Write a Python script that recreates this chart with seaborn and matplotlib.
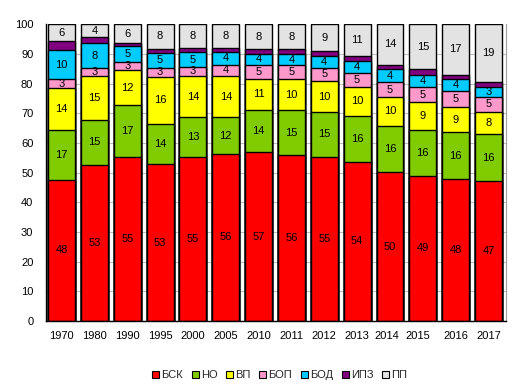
"""
Stacked bar chart: structure of causes (%), 1970-2017
"""
import numpy as np
import pandas as pd
import seaborn as sns
import matplotlib as mpl
from matplotlib import pyplot as plt
from matplotlib.patches import Patch

years = ['1970', '1980', '1990', '1995', '2000', '2005', '2010',
         '2011', '2012', '2013', '2014', '2015', '2016', '2017']

# values, bottom series first
bsk = [47.6, 52.6, 55.4, 52.9, 55.2, 56.3, 56.9, 55.8, 55.2, 53.6, 50.1, 48.9, 47.8, 47.1]
no = [16.6, 15.2, 17.3, 13.6, 13.4, 12.4, 14.1, 15.2, 15.3, 15.6, 15.6, 15.6, 15.8, 15.8]
vp = [14.4, 14.7, 11.8, 15.8, 14.0, 13.8, 10.7, 10.4, 10.3, 9.7, 9.8, 9.2, 8.6, 7.6]
bop = [2.8, 2.7, 2.8, 2.9, 3.1, 3.9, 4.7, 4.7, 4.6, 4.6, 5.0, 5.2, 5.4, 5.1]
bod = [9.9, 8.4, 5.3, 5.2, 4.8, 4.2, 3.7, 3.8, 3.8, 4.0, 4.3, 4.0, 3.8, 3.3]
ipz = [2.9, 2.0, 1.0, 1.4, 1.5, 1.5, 1.5, 1.7, 1.7, 1.8, 1.6, 2.0, 1.6, 1.7]
pp = [5.8, 4.4, 6.4, 8.2, 8.0, 7.9, 8.4, 8.4, 9.1, 10.7, 13.6, 15.1, 17.0, 19.4]

names = ['БСК', 'НО', 'ВП', 'БОП', 'БОД', 'ИПЗ', 'ПП']
colors = ['#FF0000', '#80CC00', '#FFFF00', '#FF99CC', '#00CCFF', '#800080', '#E3E3E3']
labelled = [True, True, True, True, True, False, True]

series = [bsk, no, vp, bop, bod, ipz, pp]
df = pd.DataFrame(dict(zip(names, series)), index=years)
cum = df.cumsum(axis=1)

sns.set_theme(style='white')
plt.rcParams['font.family'] = ['Liberation Sans', 'DejaVu Sans']

fig = plt.figure(figsize=(5.21, 3.91), dpi=100)
ax = fig.add_axes([0.088, 0.179, 0.883, 0.759])

# gridlines behind bars
ax.set_axisbelow(True)
ax.yaxis.grid(True, color='#BFBFBF', linewidth=0.8)

# draw cumulative totals from the top series down so each covers the next
for name, col in reversed(list(zip(names, colors))):
    sns.barplot(x=years, y=cum[name].values, color=col, saturation=1,
                width=0.82, edgecolor='black', linewidth=1, ax=ax, order=years)

# segment labels
for i, yr in enumerate(years):
    bottom = 0
    for name, lab in zip(names, labelled):
        v = df.loc[yr, name]
        if lab:
            ax.text(i, bottom + v / 2, f'{v:.0f}', ha='center', va='center',
                    fontsize=8, color='black')
        bottom += v

ax.set_xlim(-0.48, 13.53)
ax.set_ylim(0, 100)
ax.set_yticks(np.arange(0, 101, 10))
ax.set_xlabel('')
ax.set_ylabel('')
ax.tick_params(axis='both', length=0, labelsize=8, colors='black')
ax.tick_params(axis='y', pad=9)
ax.tick_params(axis='x', pad=7)
# no line along the top
ax.yaxis.get_gridlines()[-1].set_visible(False)

# 2014 / 2015 labels sit a bit left of their bars in the original
xt = ax.get_xticklabels()
for lbl, dx in zip(xt, [0] * 10 + [-3, -5, 0, 0]):
    if dx:
        lbl.set_transform(lbl.get_transform() +
                          mpl.transforms.ScaledTranslation(dx / 100, 0, fig.dpi_scale_trans))

for s in ['left', 'bottom']:
    ax.spines[s].set_color('black')
    ax.spines[s].set_linewidth(1)
ax.spines['top'].set_visible(False)
ax.spines['right'].set_color('#A0A0A0')
ax.spines['right'].set_linewidth(0.8)

handles = [Patch(facecolor=c, edgecolor='black', linewidth=0.8) for c in colors]
fig.legend(handles, names, loc='center', bbox_to_anchor=(0.537, 0.041), ncol=7,
           frameon=False, fontsize=8, handlelength=0.6, handleheight=0.6,
           handletextpad=0.2, columnspacing=0.8)

plt.savefig('out.png', dpi=100)
